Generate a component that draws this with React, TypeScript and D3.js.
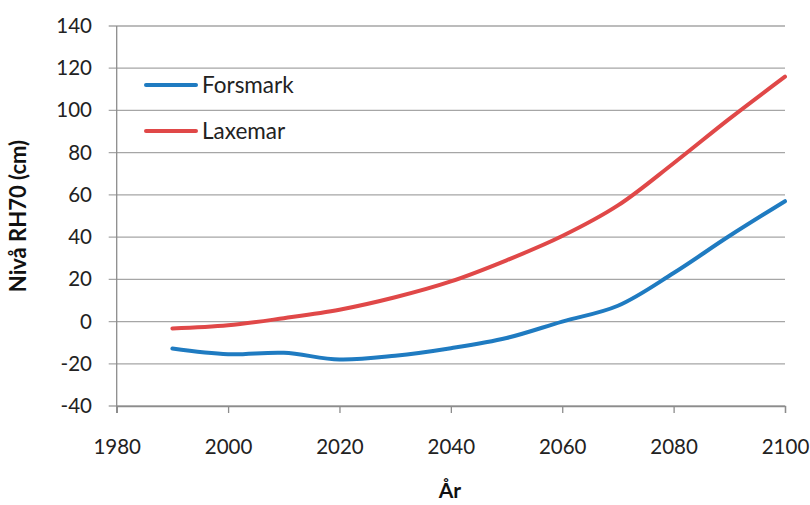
import React, { useRef, useEffect } from "react";
import * as d3 from "d3";

const years = [1990, 2000, 2010, 2020, 2030, 2040, 2050, 2060, 2070, 2080, 2090, 2100];
const forsmark = [-12.8, -15.5, -14.8, -18, -16.2, -12.6, -7.8, 0, 7.5, 23, 40.5, 57];
const laxemar = [-3.3, -1.8, 1.6, 5.6, 11.5, 19, 29, 40.5, 55, 75, 96, 116];
const xTicks = [1980, 2000, 2020, 2040, 2060, 2080, 2100];
const yTicks = [-40, -20, 0, 20, 40, 60, 80, 100, 120, 140];
const seriesNames = ["Forsmark", "Laxemar"];
const seriesColors = ["#1f7bc1", "#e04848"];

export default function App() {
  const svgRef = useRef<SVGSVGElement>(null);

  useEffect(() => {
    if (!svgRef.current) return;
    const svg = d3.select(svgRef.current);
    svg.selectAll("*").remove();

    const width = 810;
    const height = 505;
    const margin = { top: 26, right: 25, bottom: 99, left: 116.7 };
    const font = "Lato, 'Open Sans', sans-serif";

    const x = d3.scaleLinear().domain([1980, 2100]).range([margin.left, width - margin.right]);
    const y = d3.scaleLinear().domain([-40, 140]).range([height - margin.bottom, margin.top]);

    // horizontal grid + y ticks
    svg.append("g")
      .selectAll("line")
      .data(yTicks)
      .join("line")
      .attr("x1", margin.left - 8)
      .attr("x2", width - margin.right)
      .attr("y1", (d) => y(d))
      .attr("y2", (d) => y(d))
      .attr("stroke", "#a6a6a6")
      .attr("stroke-width", 1.3);

    // y axis line
    svg.append("line")
      .attr("x1", margin.left).attr("x2", margin.left)
      .attr("y1", y(140)).attr("y2", y(-40) + 7)
      .attr("stroke", "#8c8c8c").attr("stroke-width", 1.3);

    // x axis
    const xAxis = d3.axisBottom(x).tickValues(xTicks).tickSize(7).tickPadding(8).tickFormat(d3.format("d"));
    const gx = svg.append("g")
      .attr("transform", `translate(0,${y(-40)})`)
      .call(xAxis);
    gx.select(".domain").attr("stroke", "#8c8c8c").attr("stroke-width", 1.3);
    gx.selectAll(".tick line").attr("stroke", "#8c8c8c").attr("stroke-width", 1.3);
    gx.selectAll(".tick text")
      .attr("font-family", font)
      .attr("font-size", 20.5)
      .attr("fill", "#222")
      .attr("y", 0)
      .attr("dy", 0)
      .attr("transform", "translate(0,48)");

    // y tick labels
    svg.append("g")
      .selectAll("text")
      .data(yTicks)
      .join("text")
      .attr("x", 92)
      .attr("y", (d) => y(d) + 7)
      .attr("text-anchor", "end")
      .attr("font-family", font)
      .attr("font-size", 20.5)
      .attr("fill", "#222")
      .text((d) => d);

    // axis titles
    svg.append("text")
      .attr("x", 450)
      .attr("y", 498)
      .attr("text-anchor", "middle")
      .attr("font-family", font)
      .attr("font-weight", "bold")
      .attr("font-size", 21)
      .attr("fill", "#111")
      .text("År");

    svg.append("text")
      .attr("transform", `translate(26,${(y(140) + y(-40)) / 2}) rotate(-90)`)
      .attr("text-anchor", "middle")
      .attr("font-family", font)
      .attr("font-weight", "bold")
      .attr("font-size", 22)
      .attr("fill", "#111")
      .text("Nivå RH70 (cm)");

    // lines
    const line = d3.line<number>()
      .x((_, i) => x(years[i]))
      .y((d) => y(d))
      .curve(d3.curveCatmullRom.alpha(0.5));

    [forsmark, laxemar].forEach((s, i) => {
      svg.append("path")
        .datum(s)
        .attr("fill", "none")
        .attr("stroke", seriesColors[i])
        .attr("stroke-width", 4)
        .attr("stroke-linecap", "round")
        .attr("d", line);
    });

    // legend
    const legend = svg.append("g");
    seriesNames.forEach((name, i) => {
      const ly = 85 + i * 46;
      legend.append("line")
        .attr("x1", 146).attr("x2", 196)
        .attr("y1", ly).attr("y2", ly)
        .attr("stroke", seriesColors[i])
        .attr("stroke-width", 4)
        .attr("stroke-linecap", "round");
      legend.append("text")
        .attr("x", 202)
        .attr("y", ly + 8)
        .attr("font-family", font)
        .attr("font-size", 22.5)
        .attr("fill", "#222")
        .text(name);
    });
  }, []);

  return (
    <svg
      ref={svgRef}
      width={810}
      height={505}
      style={{ position: "absolute", left: 0, top: 0, background: "#fff" }}
    />
  );
}
